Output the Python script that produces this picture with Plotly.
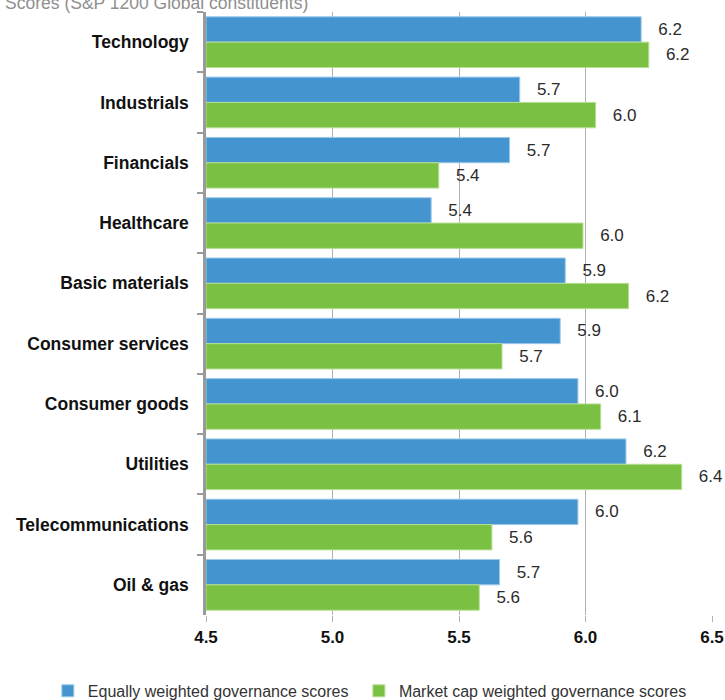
"""
Governance scores by sector - horizontal grouped bar chart.
"""
import plotly.graph_objects as go

sectors = [
    "Technology", "Industrials", "Financials", "Healthcare", "Basic materials",
    "Consumer services", "Consumer goods", "Utilities", "Telecommunications", "Oil & gas",
]
equal_weighted = [6.22, 5.74, 5.70, 5.39, 5.92, 5.90, 5.97, 6.16, 5.97, 5.66]
cap_weighted = [6.25, 6.04, 5.42, 5.99, 6.17, 5.67, 6.06, 6.38, 5.63, 5.58]
x_ticks = [4.5, 5.0, 5.5, 6.0, 6.5]

BASE = 4.5
BLUE = "#4494cf"
GREEN = "#7ac143"
PAD = "\u00a0\u00a0\u00a0"


def bar_trace(values, name, color, edge, legend):
    return go.Bar(
        y=sectors,
        x=[v - BASE for v in values],
        base=BASE,
        orientation="h",
        name=name,
        legend=legend,
        showlegend=True,
        marker=dict(color=color, line=dict(color=edge, width=1)),
        text=[f"{PAD}{v:.1f}" for v in values],
        textposition="outside",
        textfont=dict(size=17, color="#2b2b2b", family="Liberation Sans, Arial"),
        cliponaxis=False,
        hovertemplate="%{y}: %{base:.1f}<extra></extra>",
    )


fig = go.Figure()
fig.add_trace(bar_trace(equal_weighted, "Equally weighted governance scores", BLUE, "#9cc8ea", "legend"))
fig.add_trace(bar_trace(cap_weighted, "Market cap weighted governance scores", GREEN, "#b4de92", "legend2"))

legend_style = dict(
    orientation="h",
    xref="container", yref="container",
    xanchor="left",
    y=0.013, yanchor="middle",
    font=dict(size=16, color="#333"),
    bgcolor="rgba(0,0,0,0)",
)

fig.update_layout(
    width=725,
    height=700,
    margin=dict(l=206, r=13, t=12, b=85),
    paper_bgcolor="white",
    plot_bgcolor="white",
    showlegend=True,
    barmode="group",
    bargap=0.16,
    bargroupgap=0,
    font=dict(family="Liberation Sans, Arial", size=17, color="#222"),
    title=dict(
        text="Scores (S&P 1200 Global constituents)",
        xref="container", yref="container",
        x=0.007, xanchor="left",
        y=0.996, yanchor="middle",
        font=dict(size=17.5, color="#8f8f8f"),
        automargin=False,
    ),
    legend=dict(legend_style, x=0.066),
    legend2=dict(legend_style, x=0.495),
    xaxis=dict(
        range=[4.5, 6.5],
        tickvals=x_ticks,
        ticktext=[f"{t:.1f}" for t in x_ticks],
        showgrid=True,
        gridcolor="#b0b0b0",
        gridwidth=1.3,
        zeroline=False,
        showline=False,
        ticks="outside",
        ticklen=6,
        tickcolor="#b0b0b0",
        tickwidth=1.3,
        tickfont=dict(size=17, color="#111", weight="bold"),
        ticklabelstandoff=1,
        automargin=False,
    ),
    yaxis=dict(
        autorange="reversed",
        showline=True,
        linecolor="#9a9a9a",
        linewidth=2.5,
        ticks="outside",
        tickson="boundaries",
        ticklen=6,
        tickcolor="#9a9a9a",
        tickwidth=2,
        showgrid=False,
        tickfont=dict(size=17.5, color="#111", weight="bold"),
        ticklabelstandoff=11,
        automargin=False,
    ),
)

fig.write_html(
    "out.html",
    config={"displayModeBar": False},
    post_script="document.body.style.margin='0';",
)
